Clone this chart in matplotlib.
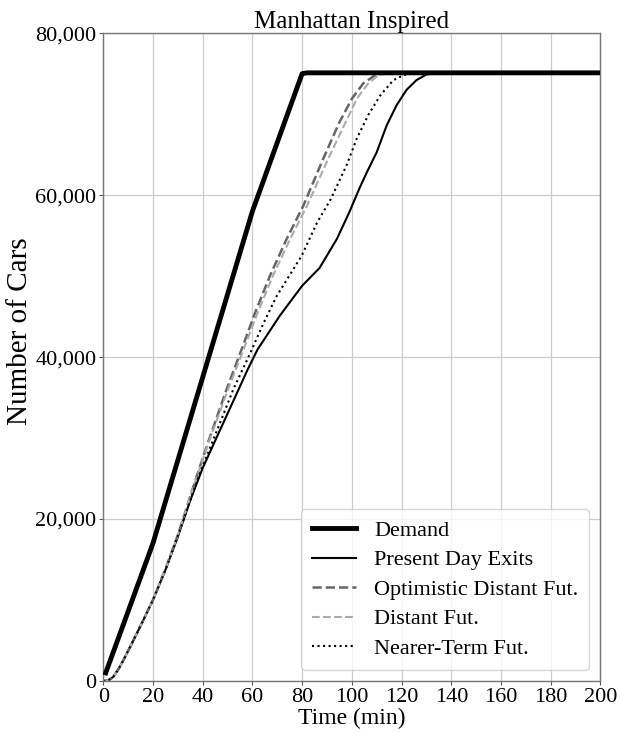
import matplotlib
matplotlib.use('Agg')
import matplotlib.pyplot as plt
from matplotlib.ticker import FuncFormatter

plt.rcParams['font.family'] = ['Liberation Serif', 'DejaVu Serif']

# Cumulative demand (cars) against time (min)
demand_t = [1, 20, 60, 80, 82, 200]
demand_n = [1000, 17000, 58000, 75000, 75100, 75100]

# Cumulative exits for each scenario
present_t = [0, 2, 4, 6, 8, 10, 15, 20, 25, 30, 35, 40, 47, 54, 58, 62, 71, 80, 87, 94,
             99, 103, 106, 110, 114, 118, 122, 126, 130, 133, 200]
present_n = [0, 60, 500, 1400, 2500, 3700, 6800, 10000, 13700, 17800, 22300, 26300, 31000,
             35700, 38400, 40900, 45100, 48800, 51000, 54600, 57900, 60800, 62800, 65300,
             68600, 71100, 73000, 74200, 74900, 75000, 75000]

optimistic_t = [0, 2, 4, 6, 8, 10, 15, 20, 25, 30, 37.5, 43, 49.6, 55.6, 61, 67, 73.8, 80.5,
                88.5, 95, 100, 104.6, 109.3, 112, 200]
optimistic_n = [0, 60, 500, 1400, 2500, 3700, 6800, 10000, 13800, 18000, 25200, 30200, 36000,
                40900, 45400, 50000, 54600, 58700, 64500, 69000, 71900, 73800, 74800, 75000,
                75000]

distant_t = [0, 2, 4, 6, 8, 10, 15, 20, 25, 30, 37.6, 43.3, 50.2, 56.4, 62, 68.2, 75.2, 82,
             90.5, 97.5, 102, 106.6, 110.7, 114, 200]
distant_n = optimistic_n

nearer_t = [0, 2, 4, 6, 8, 10, 15, 20, 25, 30, 38.3, 45.2, 52.3, 59, 64.5, 69.7, 79.8, 86,
            91.5, 97.9, 102, 106.6, 111.4, 116.7, 120.7, 123, 200]
nearer_n = [0, 60, 500, 1400, 2500, 3700, 6800, 10000, 13700, 17900, 25200, 30500, 36000,
            40400, 44200, 47500, 52500, 56600, 59500, 63700, 67000, 69900, 72300, 74200,
            74800, 75000, 75000]

fig = plt.figure(figsize=(6.2, 7.32), dpi=100)
ax = fig.add_axes([0.1665, 0.0697, 0.802, 0.885])

ax.plot(demand_t, demand_n, color='black', linewidth=3.5, label='Demand', zorder=3)
ax.plot(present_t, present_n, color='black', linewidth=1.5, label='Present Day Exits')
ax.plot(optimistic_t, optimistic_n, color='#666666', linewidth=1.8, linestyle='--',
        label='Optimistic Distant Fut.')
ax.plot(distant_t, distant_n, color='#aaaaaa', linewidth=1.5, linestyle='--',
        label='Distant Fut.')
ax.plot(nearer_t, nearer_n, color='black', linewidth=1.5, linestyle=':',
        label='Nearer-Term Fut.')

ax.set_xlim(0, 200)
ax.set_ylim(0, 80000)
ax.set_xticks(range(0, 201, 20))
ax.set_yticks(range(0, 80001, 20000))
ax.yaxis.set_major_formatter(FuncFormatter(lambda v, p: '{:,.0f}'.format(v)))
ax.tick_params(labelsize=16, color='#555555', length=3, pad=2)
ax.grid(color='#cccccc', linewidth=0.9)
ax.set_axisbelow(True)
for s in ax.spines.values():
    s.set_color('#777777')
    s.set_linewidth(1.0)

ax.set_title('Manhattan Inspired', fontsize=18, pad=1)
ax.set_xlabel('Time (min)', fontsize=17, labelpad=1)
ax.set_ylabel('Number of Cars', fontsize=21)
ax.yaxis.set_label_coords(-0.142, 0.54)
ax.legend(loc='lower right', fontsize=16, handlelength=2.0, borderpad=0.5,
          labelspacing=0.4, framealpha=0.8)

fig.savefig('out.png', dpi=100)
